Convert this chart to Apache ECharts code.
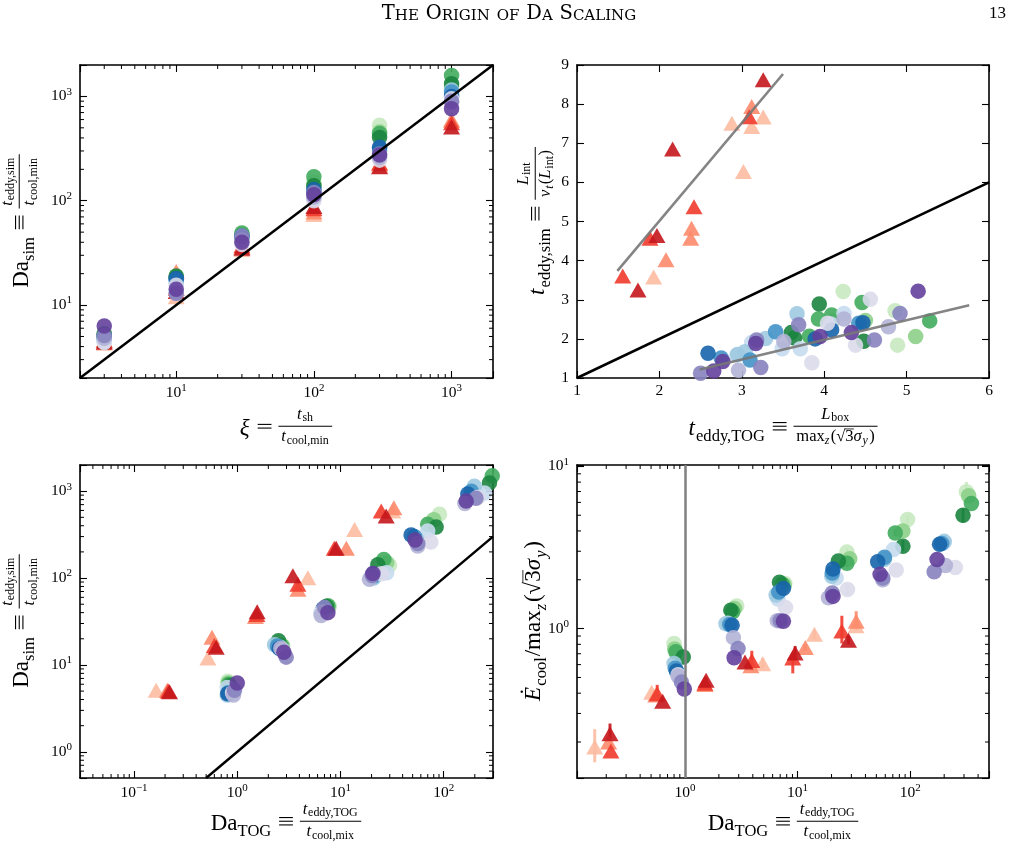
<!DOCTYPE html>
<html><head><meta charset="utf-8">
<script src="https://cdn.jsdelivr.net/npm/echarts@6/dist/echarts.min.js"></script>
<style>html,body{margin:0;padding:0;background:#fff}#c{width:1017px;height:848px}</style>
</head><body><div id="c"></div><script>
// ---------------- DATA ----------------
// Each group: 4 shades (light -> dark), each a list of [x, y] (panel 4: [x, y, errLo, errHi])
// Panel 1: xi vs Da_sim
const p1Red = [
  [[3,4.3],[10,12],[30,34],[100,74],[300,215],[1000,600]],
  [[3,4.5],[10,21],[30,36],[100,78],[300,225],[1000,590]],
  [[3,4.6],[10,14.5],[30,37],[100,84],[300,230],[1000,560]],
  [[3,4.4],[10,13.5],[30,35],[100,88],[300,212],[1000,510]]
];
const p1Green = [
  [[3,5],[10,18],[30,47],[100,150],[300,530],[1000,1200]],
  [[3,5],[10,18],[30,48],[100,140],[300,457],[1000,1250]],
  [[3,5.2],[10,18.5],[30,49],[100,170],[300,440],[1000,1585]],
  [[3,5.3],[10,19],[30,46],[100,139],[300,404],[1000,1320]]
];
const p1Blue = [
  [[3,4.4],[10,16],[30,44],[100,104],[300,300],[1000,1060]],
  [[3,4.6],[10,17],[30,45],[100,110],[300,300],[1000,1150]],
  [[3,4.8],[10,17.5],[30,46],[100,120],[300,320],[1000,1100]],
  [[3,5],[10,18],[30,45],[100,128],[300,325],[1000,1000]]
];
const p1Purple = [
  [[3,4.4],[10,15.5],[30,38],[100,100],[300,245],[1000,950]],
  [[3,4.8],[10,13],[30,42],[100,108],[300,260],[1000,880]],
  [[3,5.1],[10,13],[30,46],[100,120],[300,280],[1000,900]],
  [[3,6.3],[10,14.2],[30,40],[100,114],[300,274],[1000,763]]
];
const p1Identity = [[2,2],[2000,2000]];

// Panel 2: t_eddy,TOG vs t_eddy,sim
const p2Red = [
  [[2.88,7.51],[3.26,7.67],[3.12,7.43],[3.02,6.28],[1.93,3.58]],
  [[3.12,7.94],[2.39,4.83],[2.38,4.57],[2.08,4.02]],
  [[3.09,7.68],[2.42,5.38],[1.886,4.57],[1.555,3.61]],
  [[3.26,8.62],[2.16,6.85],[1.97,4.64],[1.74,3.25]]
];
const p2Green = [
  [[4.23,3.21],[4.89,1.84],[4.86,2.72]],
  [[5.11,2.06],[4.5,2.47],[4.1,2.45]],
  [[4.46,2.93],[4.09,2.61],[5.28,2.46],[3.93,2.51],[3.82,2.07]],
  [[3.94,2.89],[3.6,2.16],[3.64,2.02],[4.48,1.94]]
];
const p2Blue = [
  [[4.24,2.65],[3.49,1.75],[3.71,1.75],[2.94,1.59],[3.12,1.91],[4.08,2.38]],
  [[3.67,2.64],[3.29,2.01],[3.04,1.67],[2.95,1.6]],
  [[3.41,2.18],[3.1,1.46],[2.75,1.51],[4.42,2.4]],
  [[4.47,2.41],[4.09,2.23],[3.89,2.0],[2.59,1.63]]
];
const p2Purple = [
  [[4.56,3.01],[4.38,1.84],[3.85,1.39],[4.04,2.4]],
  [[4.24,2.51],[3.51,1.93],[2.96,1.2],[4.78,2.31]],
  [[3.69,2.36],[4.92,2.65],[4.61,1.97],[3.23,1.27],[2.5,1.12],[3.18,1.97]],
  [[5.14,3.22],[4.33,2.16],[3.95,2.06],[3.17,1.88],[2.77,1.42],[2.66,1.18]]
];
const p2Identity = [[1,1],[6,6]];
const p2FitRed = [[1.49,3.74],[3.5,8.77]];
const p2FitBlue = [[2.49,1.22],[5.76,2.86]];

// Panel 3: Da_TOG vs Da_sim
const p3Red = [
  [[0.164,5.1],[0.52,12],[4.83,101],[13.7,363],[32,590]],
  [[0.21,5.1],[0.569,20.8],[1.5,36],[3.87,74.5],[11.4,220],[32.9,644]],
  [[0.215,5.0],[0.6,16.7],[1.55,38],[3.87,85],[8.7,220],[24.8,590]],
  [[0.221,4.9],[0.626,16],[1.56,41],[3.46,106],[9.08,220],[27.7,517]]
];
const p3Green = [
  [[0.81,6.5],[2.7,17],[7.8,47],[29.8,140],[90.9,541],[340,1700]],
  [[0.82,6.2],[2.75,16.5],[7.6,46],[28,150],[80,470],[310,1400]],
  [[0.83,6],[2.68,16.5],[7.55,48],[26.3,164],[70,415],[295,1500]],
  [[0.85,5.8],[2.51,19],[7.3,47],[23,142],[84.4,386],[277,1245]]
];
const p3Blue = [
  [[0.8,5.5],[2.6,16],[7.0,43],[28,115],[70,348],[248,950]],
  [[0.8,4.5],[2.3,17.1],[6.5,40],[21,100],[55,280],[198,1140]],
  [[0.82,4.8],[2.45,16.5],[6.8,44],[20.8,105],[52,300],[185,1000]],
  [[0.81,4.66],[2.55,15.6],[6.8,44],[20.6,111],[48.3,313],[171,930]]
];
const p3Purple = [
  [[0.9,4.8],[2.75,15],[6.6,41],[25,112],[75,260],[215,850]],
  [[0.92,4.5],[2.64,15.6],[6.5,37],[19.1,97],[56,234],[160,720]],
  [[0.94,5.1],[2.98,12.3],[7.0,46],[20.3,107],[56,250],[205,830]],
  [[1.0,6.2],[2.83,14],[7.55,40],[20.6,113],[52.8,274],[165,768]]
];
const p3Identity = [[0.5,0.5],[300,300]];

// Panel 4: Da_TOG vs E_cool / max(sqrt3 sigma)
const p4Red = [
  [[0.158,0.186,0.15,0.24],[0.506,0.406],[4.9,0.608,0.57,0.66],[14.1,0.922,0.86,0.98],[33,1.04]],
  [[0.21,0.2],[0.55,0.39],[1.51,0.453],[3.85,0.59],[11.7,0.764,0.73,0.8],[33.1,1.11,0.98,1.28]],
  [[0.22,0.176],[0.567,0.397,0.37,0.45],[1.5,0.46],[3.92,0.637,0.55,0.73],[9.06,0.659,0.53,0.7],[24.7,0.966,0.81,1.2]],
  [[0.216,0.225,0.21,0.26],[0.634,0.357],[1.54,0.48,0.45,0.5],[3.41,0.622],[9.5,0.707,0.64,0.78],[28.3,0.847,0.8,0.9]]
];
const p4Green = [
  [[0.8,0.81],[2.88,1.38],[7.7,1.9],[27.4,2.97,2.8,3.15],[94.7,4.71,4.4,5.0],[315,6.97,6.3,8.0]],
  [[0.81,0.75],[2.75,1.33],[7.6,1.85],[29,2.7],[86,4.0],[330,6.6]],
  [[0.83,0.72],[2.65,1.27],[7.3,1.88],[27.4,2.53,2.4,2.7],[73.6,3.89,3.7,4.1],[349,5.91]],
  [[0.966,0.668],[2.55,1.3],[6.9,1.93],[23,2.61],[86,3.22,3.0,3.5],[294,5.0,4.5,5.5]]
];
const p4Blue = [
  [[0.85,0.54],[2.4,1.08],[6.7,1.52],[22,2.05],[71,3.07],[200,3.4]],
  [[0.8,0.61],[2.31,1.07],[6.44,1.61],[20.1,2.1],[59,2.68],[200,3.45,3.3,3.6]],
  [[0.82,0.57],[2.5,1.06],[6.8,1.68],[20.3,2.2],[59,2.75],[190,3.35]],
  [[0.84,0.548],[2.62,1.05],[7.48,1.77],[20.6,2.33],[51.4,2.58],[182,3.31]]
];
const p4Purple = [
  [[0.87,0.52],[7.8,1.35],[27.7,1.74,1.62,1.86],[75,2.3],[251,2.38]],
  [[0.87,0.508],[2.69,0.88],[6.6,1.12],[18.8,1.55],[57,2.0],[205,2.45]],
  [[0.93,0.468],[2.96,0.753],[7.0,1.12],[20.3,1.66],[57,2.05],[163,2.24]],
  [[0.986,0.424],[2.73,0.662],[7.48,1.11],[20.6,1.58],[54,2.16],[173,2.67]]
];
const p4VLine = 1;

const COLORS = {
  red: ['#fcbba1','#fc8a6a','#ef3b2c','#c4161c'],
  green: ['#c7e9c0','#8dd08a','#41ab5d','#1b843f'],
  blue: ['#c6dbef','#9ecae1','#4292c6','#1764ab'],
  purple: ['#dadaeb','#b3b3d6','#8783bf','#63409c']
};

// ---------------- HELPERS ----------------
const SERIF = '"Liberation Serif","DejaVu Serif",serif';
const mctx = document.createElement('canvas').getContext('2d');
function tw(t, f){ mctx.font = f; return mctx.measureText(t).width; }
function fnt(s, it){ return (it ? 'italic ' : '') + s.toFixed(2) + 'px ' + SERIF; }
const AXIS = -0.12;   // math axis (fraction bar, relation centre) relative to text middle, in em

function row(tokens, S, drop) {
  if (drop === undefined) drop = 0.32;
  let x = 0; const ch = [];
  for (const tk of tokens) {
    if (typeof tk === 'string' || tk.i !== undefined) {
      const it = typeof tk !== 'string'; const t = it ? tk.i : tk; const f = fnt(S, it);
      ch.push({type:'text', x: x, y: 0, style:{text:t, font:f, fill:'#000', align:'left', verticalAlign:'middle'}});
      x += tw(t, f) + (it ? S*0.05 : 0);
    } else if (tk.sp !== undefined) {
      x += tk.sp * S;
    } else if (tk.rel) {
      // relation drawn as bars: '=' (2 bars) or '≡' (3 bars), centred on the math axis
      const w = S*0.6, g = S*0.16, n = tk.rel === 'equiv' ? 3 : 2;
      for (let k = 0; k < n; k++) {
        const yy = AXIS*S + (k - (n-1)/2) * g;
        ch.push({type:'rect', shape:{x:x, y:yy-0.55, width:w, height:1.1}, style:{fill:'#000'}});
      }
      x += w;
    } else if (tk.sub || tk.sup) {
      const r = row(tk.sub || tk.sup, S*0.72, 0.25);
      ch.push({type:'group', x: x, y: tk.sub ? S*drop : -S*0.38, children: r.ch});
      x += r.w + S*0.04;
    } else if (tk.frac) {
      const Sf = S*0.72, BAR = AXIS*S;
      const n = row(tk.frac[0], Sf, 0.2), d = row(tk.frac[1], Sf, 0.25);
      const w = Math.max(n.w, d.w) + S*0.25;
      ch.push({type:'group', x: x+(w-n.w)/2, y: BAR - 0.68*Sf, children: n.ch});
      ch.push({type:'group', x: x+(w-d.w)/2, y: BAR + 0.64*Sf, children: d.ch});
      ch.push({type:'rect', shape:{x:x, y:BAR-0.5, width:w, height:1}, style:{fill:'#000'}});
      x += w;
    } else if (tk.over) {
      const r = row(tk.over, S, drop);
      ch.push({type:'group', x: x, y: 0, children: r.ch});
      ch.push({type:'rect', shape:{x:x-0.5, y:-S*0.5, width:r.w+0.8, height:0.8}, style:{fill:'#000'}});
      x += r.w;
    }
  }
  return {ch: ch, w: x};
}
function mathLabel(tokens, S, cx, cy, rotated) {
  const r = row(tokens, S);
  return {type:'group', x: cx, y: cy, rotation: rotated ? Math.PI/2 : 0, silent:true,
    children: [{type:'group', x: -r.w/2, y: 0, children: r.ch}]};
}
function smallCaps(words, big, small, cx, cy, fam) {
  let x = 0; const ch = [];
  const push = (t, s) => { const f = s + 'px ' + fam; ch.push({type:'text', x: x, y: -0.34*s, style:{text:t, font:f, fill:'#000', verticalAlign:'middle'}}); x += tw(t, f); };
  words.forEach((w, i) => {
    if (i > 0) x += tw(' ', big + 'px ' + fam) * 1.1;
    if (w[0] === w[0].toUpperCase()) { push(w[0], big); if (w.length > 1) push(w.slice(1).toUpperCase(), small); }
    else push(w.toUpperCase(), small);
  });
  return {type:'group', x: cx, y: cy, silent:true, children:[{type:'group', x: -x/2, y: 0, children: ch}]};
}
function powFmt(v) {
  const e = Math.log10(v); const r = Math.round(e);
  if (Math.abs(e - r) > 1e-6) return '';
  return '{b|10}{s|' + (r < 0 ? '\u2212' + (-r) : r) + '}';
}
const tickRich = {
  b: {fontFamily: SERIF, fontSize: 15.5, color: '#000', lineHeight: 20},
  s: {fontFamily: SERIF, fontSize: 11, color: '#000', lineHeight: 11, verticalAlign: 'top'}
};
function minorVals(min, max) {
  const out = [];
  for (let k = Math.floor(Math.log10(min)); k <= Math.ceil(Math.log10(max)); k++)
    for (let m = 2; m <= 9; m++) { const v = m*Math.pow(10, k); if (v > min*1.0001 && v < max*0.9999) out.push(v); }
  return out;
}

// ---------------- LAYOUT ----------------
const panels = [
  {grid:{left:80, top:65, width:413, height:313}, x:{type:'log', min:2, max:2000}, y:{type:'log', min:2, max:2000},
   data:{red:p1Red, green:p1Green, blue:p1Blue, purple:p1Purple}},
  {grid:{left:577, top:65, width:412, height:313}, x:{type:'value', min:1, max:6, interval:1}, y:{type:'value', min:1, max:9, interval:1},
   data:{red:p2Red, green:p2Green, blue:p2Blue, purple:p2Purple}},
  {grid:{left:80, top:465, width:413, height:313}, x:{type:'log', min:0.03, max:300}, y:{type:'log', min:0.5, max:2000},
   data:{red:p3Red, green:p3Green, blue:p3Blue, purple:p3Purple}},
  {grid:{left:577, top:465, width:412, height:313}, x:{type:'log', min:0.11, max:500}, y:{type:'log', min:0.12, max:10.2},
   data:{red:p4Red, green:p4Green, blue:p4Blue, purple:p4Purple}}
];

const grids = [], xAxes = [], yAxes = [], series = [];
const lineSt = {color:'#000', width:1.6};
function mkAxis(dim, pi, def, pos, showLabel) {
  const a = {type: def.type, gridIndex: pi, min: def.min, max: def.max, position: pos,
    axisLine: {show:true, onZero:false, lineStyle: lineSt},
    axisTick: {show:true, inside:true, length:7, lineStyle:{color:'#000', width:1.1}},
    splitLine: {show:false},
    axisLabel: {show: showLabel, color:'#000', fontFamily: SERIF, fontSize: 15.5, margin: dim==='x' ? 5 : 8, hideOverlap:false}};
  if (def.type === 'log') { a.logBase = 10; a.axisLabel.formatter = powFmt; a.axisLabel.rich = tickRich; }
  else { a.interval = def.interval; }
  return a;
}
panels.forEach((p, pi) => {
  grids.push(Object.assign({containLabel:false}, p.grid));
  xAxes.push(mkAxis('x', pi, p.x, 'bottom', true));
  xAxes.push(mkAxis('x', pi, p.x, 'top', false));
  yAxes.push(mkAxis('y', pi, p.y, 'left', true));
  yAxes.push(mkAxis('y', pi, p.y, 'right', false));
  const st = {stroke:'#000', lineWidth:1};
  if (p.x.type === 'log') {
    series.push({type:'custom', xAxisIndex:2*pi, yAxisIndex:2*pi, silent:true, z:5, clip:false, encode:{x:0, y:1},
      data: minorVals(p.x.min, p.x.max).map(v => [v, p.y.min]),
      renderItem: (params, api) => {
        const cs = params.coordSys; const px = api.coord([api.value(0), api.value(1)])[0];
        return {type:'group', children:[
          {type:'line', shape:{x1:px, y1:cs.y+cs.height, x2:px, y2:cs.y+cs.height-4}, style:st},
          {type:'line', shape:{x1:px, y1:cs.y, x2:px, y2:cs.y+4}, style:st}]};
      }});
  }
  if (p.y.type === 'log') {
    series.push({type:'custom', xAxisIndex:2*pi, yAxisIndex:2*pi, silent:true, z:5, clip:false, encode:{x:0, y:1},
      data: minorVals(p.y.min, p.y.max).map(v => [p.x.min, v]),
      renderItem: (params, api) => {
        const cs = params.coordSys; const py = api.coord([api.value(0), api.value(1)])[1];
        return {type:'group', children:[
          {type:'line', shape:{x1:cs.x, y1:py, x2:cs.x+4, y2:py}, style:st},
          {type:'line', shape:{x1:cs.x+cs.width, y1:py, x2:cs.x+cs.width-4, y2:py}, style:st}]};
      }});
  }
  if (pi === 3) {
    series.push({type:'line', xAxisIndex:6, yAxisIndex:6, data:[], silent:true, z:1,
      markLine:{symbol:'none', silent:true, label:{show:false}, animation:false,
        lineStyle:{color:'#808080', width:2.5, type:'solid'}, data:[{xAxis:p4VLine}]}});
  }
  ['red','green','blue','purple'].forEach(g => {
    p.data[g].forEach((pts, si) => {
      const color = COLORS[g][si];
      const errs = pts.filter(q => q.length === 4).map(q => [q[0], q[2], q[3]]);
      if (errs.length) {
        series.push({type:'custom', xAxisIndex:2*pi, yAxisIndex:2*pi, silent:true, z:2, encode:{x:0, y:[1,2]},
          data: errs,
          renderItem: (params, api) => {
            const a = api.coord([api.value(0), api.value(1)]), b = api.coord([api.value(0), api.value(2)]);
            return {type:'line', shape:{x1:a[0], y1:a[1], x2:b[0], y2:b[1]}, style:{stroke:color, lineWidth:3, opacity:0.9}};
          }});
      }
      series.push({type:'scatter', xAxisIndex:2*pi, yAxisIndex:2*pi, silent:true, z:2,
        symbol: g === 'red' ? 'triangle' : 'circle', symbolSize: g === 'red' ? [17,15] : 15.5,
        data: pts.map(q => [q[0], q[1]]), itemStyle:{color: color, opacity: 0.9}});
    });
  });
});
series.push({type:'line', xAxisIndex:0, yAxisIndex:0, data:p1Identity, symbol:'none', silent:true, z:3, lineStyle:{color:'#000', width:2.5}});
series.push({type:'line', xAxisIndex:2, yAxisIndex:2, data:p2Identity, symbol:'none', silent:true, z:3, lineStyle:{color:'#000', width:2.5}});
series.push({type:'line', xAxisIndex:2, yAxisIndex:2, data:p2FitRed, symbol:'none', silent:true, z:3, lineStyle:{color:'#777', width:2.6, opacity:0.9}});
series.push({type:'line', xAxisIndex:2, yAxisIndex:2, data:p2FitBlue, symbol:'none', silent:true, z:3, lineStyle:{color:'#777', width:2.6, opacity:0.9}});
series.push({type:'line', xAxisIndex:4, yAxisIndex:4, data:p3Identity, symbol:'none', silent:true, z:3, lineStyle:{color:'#000', width:2.5}});

// ---------------- TEXT ----------------
const S = 23, sp = {sp:0.3};
const EQ = {rel:'eq'}, EQUIV = {rel:'equiv'};
const tFrac = (a, b) => ({frac:[[{i:'t'},{sub:[a]}],[{i:'t'},{sub:[b]}]]});
const maxSig = ['max',{sub:[{i:'z'}]},'(\u221A',{over:['3']},{i:'\u03C3'},{sub:[{i:'y'}]},')'];
const lblP1x = [{i:'\u03BE'}, sp, EQ, sp, tFrac('sh','cool,min')];
const lblDaSim = ['Da', {sub:['sim']}, sp, EQUIV, sp, tFrac('eddy,sim','cool,min')];
const lblP2x = [{i:'t'}, {sub:['eddy,TOG']}, sp, EQUIV, sp, {frac:[[{i:'L'},{sub:['box']}], maxSig]}];
const lblP2y = [{i:'t'}, {sub:['eddy,sim']}, sp, EQUIV, sp, {frac:[[{i:'L'},{sub:['int']}],[{i:'v'},{sub:[{i:'t'}]},'(',{i:'L'},{sub:['int']},')']]}];
const lblDaTOG = ['Da', {sub:['TOG']}, sp, EQUIV, sp, tFrac('eddy,TOG','cool,mix')];
const lblP4y = [{i:'\u0116'}, {sub:['cool']}, '/'].concat(maxSig);

const graphics = [
  smallCaps(['The','Origin','of','Da','Scaling'], 19.5, 15, 509, 21, '"DejaVu Serif",serif'),
  {type:'text', right: 11, top: 5, style:{text:'13', font:'17px ' + SERIF, fill:'#000'}},
  mathLabel(lblP1x, S, 286, 429, false),
  mathLabel(lblP2x, S, 783, 429, false),
  mathLabel(lblDaTOG, S, 286, 824, false),
  mathLabel(lblDaTOG, S, 783, 824, false),
  mathLabel(lblDaSim, S, 22, 221, true),
  mathLabel(lblP2y, S, 538, 221, true),
  mathLabel(lblDaSim, S, 22, 621, true),
  mathLabel(lblP4y, S, 534, 621, true)
];

const chart = echarts.init(document.getElementById('c'), null, {renderer:'canvas'});
chart.setOption({
  animation:false, backgroundColor:'#fff',
  grid: grids, xAxis: xAxes, yAxis: yAxes, series: series,
  graphic: {elements: graphics}
});
</script></body></html>
